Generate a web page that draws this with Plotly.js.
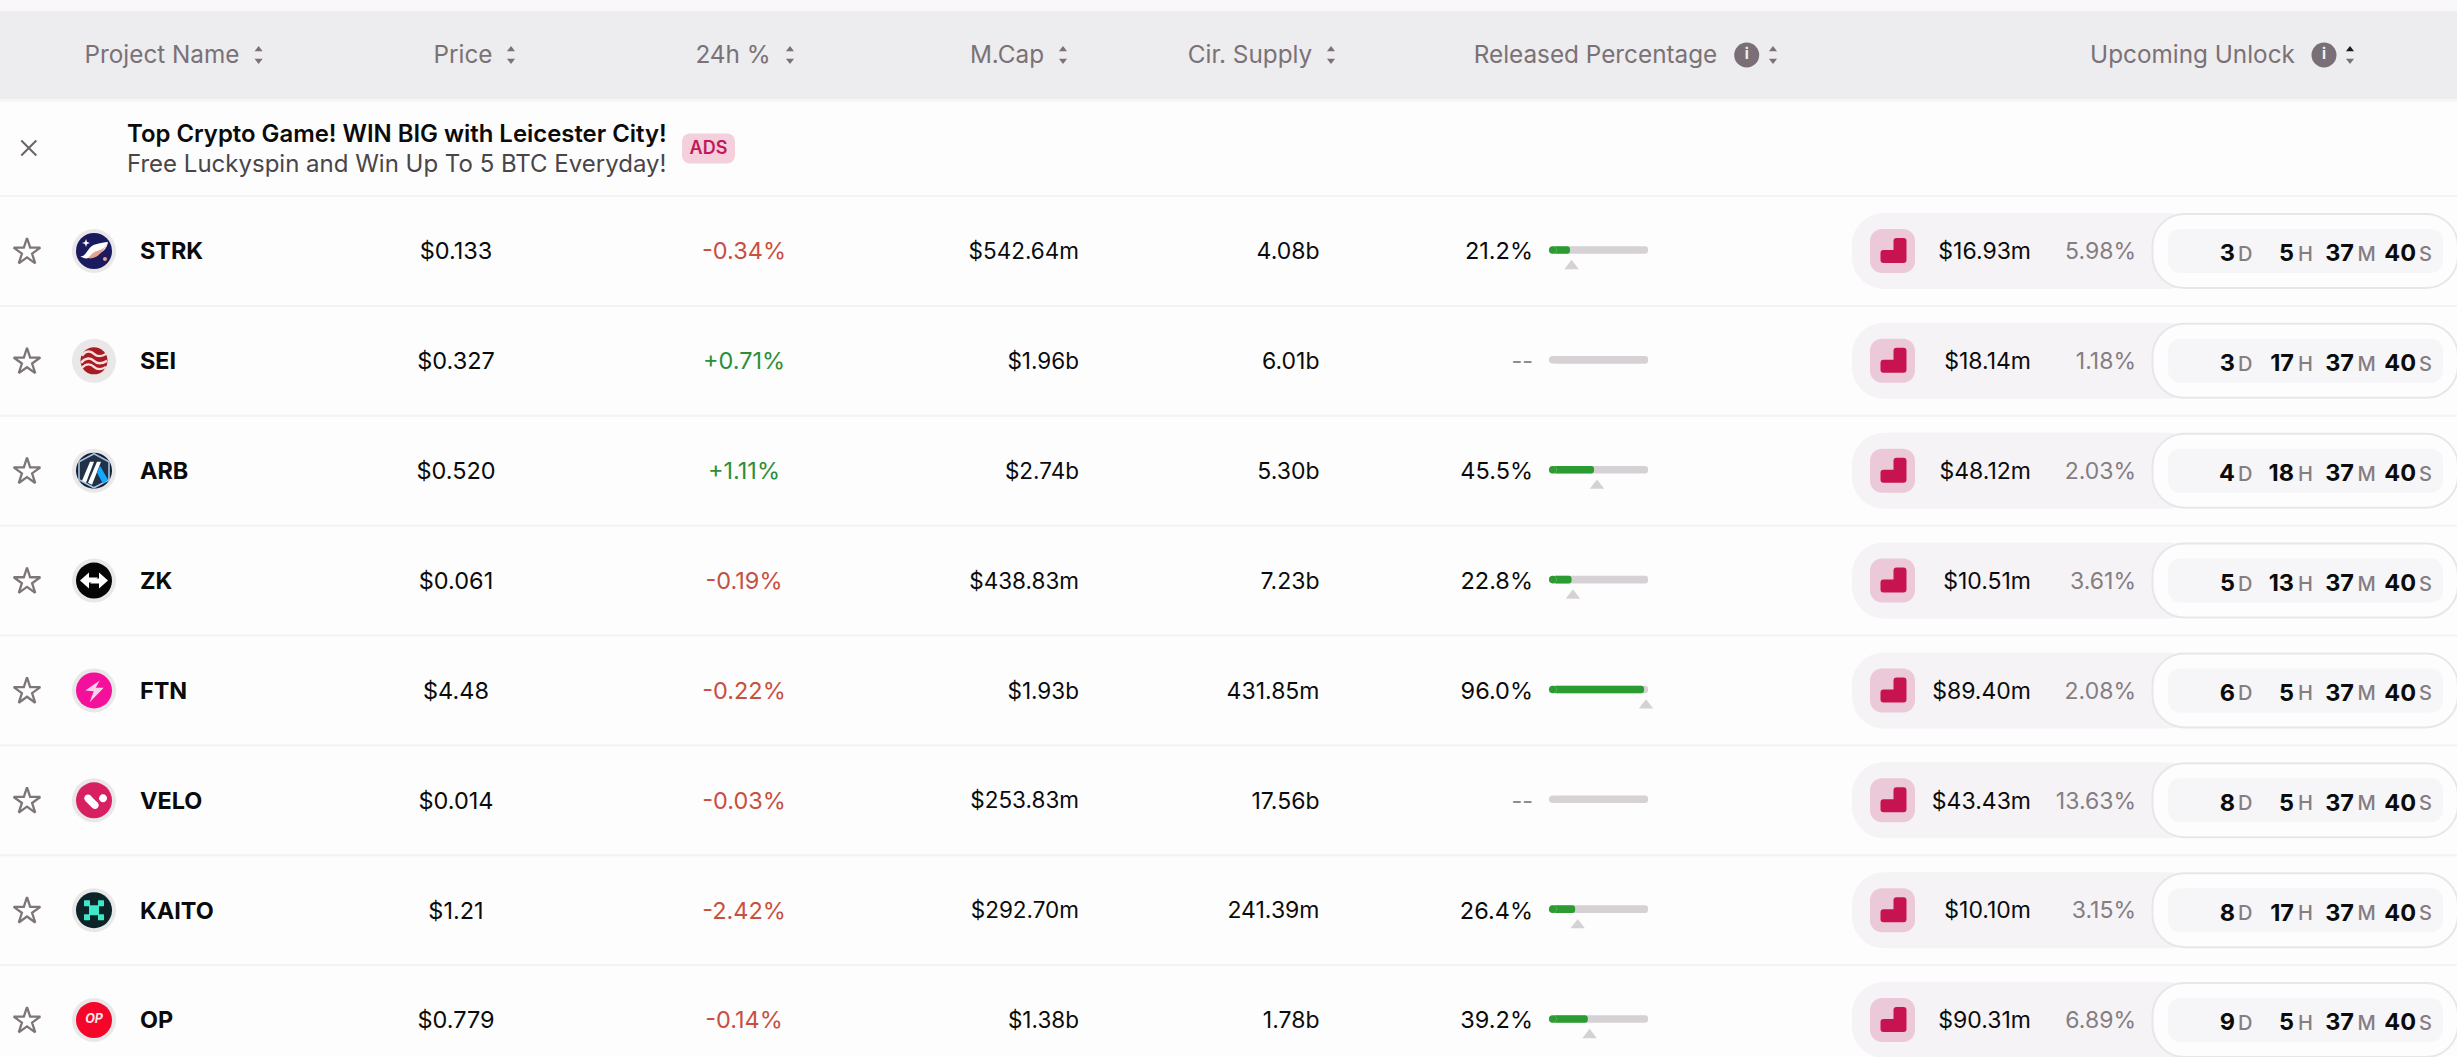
<!DOCTYPE html>
<html><head><meta charset="utf-8">
<script src="https://cdn.plot.ly/plotly-3.0.1.min.js"></script>
<style>html,body{margin:0;padding:0;background:#fdfdfd}#chart{width:2457px;height:1057px}</style>
</head><body><div id="chart"></div>
<script>
// ---------- data ----------
const projectNames = ['STRK','SEI','ARB','ZK','FTN','VELO','KAITO','OP'];
const prices = ['$0.133','$0.327','$0.520','$0.061','$4.48','$0.014','$1.21','$0.779'];
const dayChanges = [-0.34,0.71,1.11,-0.19,-0.22,-0.03,-2.42,-0.14];
const marketCaps = ['$542.64m','$1.96b','$2.74b','$438.83m','$1.93b','$253.83m','$292.70m','$1.38b'];
const circSupply = ['4.08b','6.01b','5.30b','7.23b','431.85m','17.56b','241.39m','1.78b'];
const releasedPct = [21.2,null,45.5,22.8,96.0,null,26.4,39.2];
const nextReleasePct = [22.8,null,48.5,24.2,98,null,29,41];
const unlockValues = ['$16.93m','$18.14m','$48.12m','$10.51m','$89.40m','$43.43m','$10.10m','$90.31m'];
const unlockShares = ['5.98%','1.18%','2.03%','3.61%','2.08%','13.63%','3.15%','6.89%'];
const days = [3,3,4,5,6,8,8,9];
const hours = [5,17,18,13,5,5,17,5];
const minutes = [37,37,37,37,37,37,37,37];
const seconds = [40,40,40,40,40,40,40,40];
const headerLabels = ['Project Name','Price','24h %','M.Cap','Cir. Supply','Released Percentage','Upcoming Unlock'];
const adTitle = 'Top Crypto Game! WIN BIG with Leicester City!';
const adSubtitle = 'Free Luckyspin and Win Up To 5 BTC Everyday!';

// ---------- layout geometry ----------
const W = 2457, H = 1057, ROW0 = 251, ROWH = 109.86;
const rows = projectNames.map((_, i) => i);
const rowAt = px => (px - ROW0) / ROWH;
const off = (i, px) => i + px / ROWH;
const FONT = 'Inter, "Noto Sans", sans-serif';
const INK = '#0b0b0c', MUTED = '#857d82', HEAD = '#7a7276', RED = '#c8503f', GREEN = '#2c8f36', BARGREEN = '#2b9c31';

const traces = [];
function text(x, y, t, pos, size, color, weight, extra) {
  traces.push(Object.assign({type:'scatter', mode:'text', x, y, text:t, textposition:pos,
    textfont:{family:FONT, size, color, weight:weight||400}, cliponaxis:false, hoverinfo:'skip', showlegend:false}, extra||{}));
}
function mark(x, y, symbol, size, color, line, axis) {
  traces.push({type:'scatter', mode:'markers', x, y, xaxis:axis||'x', yaxis:'y', cliponaxis:false,
    marker:{symbol, size, color, opacity:1, line:line||{width:0}}, hoverinfo:'skip', showlegend:false});
}

// ---------- shapes ----------
const shapes = [];
const n = v => +v.toFixed(2);
function P(cmds){ // [['M',x,y],['L',x,y],['C',x1,y1,x2,y2,x,y],['Z']] with y pointing down
  return cmds.map(c => c[0] + (c.length>1 ? ' ' + c.slice(1).map((v,k)=> n(k%2? -v : v)).join(' ') : '')).join(' ');
}
function rr(x0,y0,x1,y1,r){
  const k=r*0.45;
  return P([['M',x0+r,y0],['L',x1-r,y0],['C',x1-k,y0,x1,y0+k,x1,y0+r],['L',x1,y1-r],['C',x1,y1-k,x1-k,y1,x1-r,y1],
    ['L',x0+r,y1],['C',x0+k,y1,x0,y1-k,x0,y1-r],['L',x0,y0+r],['C',x0,y0+k,x0+k,y0,x0+r,y0],['Z']]);
}
function disc(cx,cy,r){ return rr(cx-r,cy-r,cx+r,cy+r,r); }
function poly(pts){ return P(pts.map((p,i)=>[i?'L':'M',p[0],p[1]]).concat([['Z']])); }
function glyph(ax, row, path, fill, lineColor, lineWidth, layer){
  shapes.push({type:'path', xref:'x', yref:'y', xsizemode:'pixel', ysizemode:'pixel', xanchor:ax, yanchor:row, path,
    fillcolor:fill||'rgba(0,0,0,0)', line:{color:lineColor||'rgba(0,0,0,0)', width:lineWidth||0}, layer:layer||'above'});
}
function band(y0,y1,color){
  shapes.push({type:'rect', xref:'x', yref:'y', x0:0, x1:W, y0:rowAt(y0), y1:rowAt(y1), fillcolor:color, line:{width:0}, layer:'below'});
}
band(0,11,'#f9f7f9');
band(11,99,'#edecef');
band(99,102,'#f6f5f7');
for (let i=0;i<8;i++){
  shapes.push({type:'line', xref:'x', yref:'y', x0:0, x1:W, y0:i-0.5, y1:i-0.5, line:{color:'#f3f2f4', width:2}, layer:'below'});
}
// ad badge
glyph(708.5, rowAt(148.5), rr(-26.5,-15,26.5,15,8), '#f4cfdc', null, 0, 'below');

// unlock pills
rows.forEach(i=>{
  glyph(2000, i, rr(-148,-38,200,38,32), '#f5f3f5', null, 0, 'below');
  glyph(2305, i, rr(-152.5,-37,153,37,32), '#fdfdfd', '#e8e6ea', 2, 'below');
  glyph(2305, i, rr(-137,-22,138,22,12), '#f6f5f7', null, 0, 'below');
  glyph(1892.5, i, rr(-22.5,-22,22.5,22,12), '#ecc9d8', null, 0, 'below');
  glyph(1892.5, i, P([['M',1,-10],['C',1,-12,2,-13,4,-13],['L',11,-13],['C',13,-13,14,-12,14,-10],['L',14,9],['C',14,11,13,12,11,12],
     ['L',-9,12],['C',-11,12,-12,11,-12,9],['L',-12,2],['C',-12,0,-11,-1,-9,-1],['L',1,-1],['Z']]), '#c7134f', null, 0, 'below');
});

// ---------- table header ----------
const headerCenters = [162,463,733,1007,1250,1595.5,2192.5];
const sortX = [258.6,511,790,1063,1331,1773,2350];
const HY = rowAt(55);
text(headerCenters, headerCenters.map(()=>rowAt(56.5)), headerLabels, 'middle center', 24.3, HEAD);
mark(sortX, sortX.map(()=>rowAt(49.5)), 'triangle-up', 7, sortX.map((_,k)=>k===6?'#1c1a1c':HEAD));
mark(sortX, sortX.map(()=>rowAt(60.5)), 'triangle-down', 7, HEAD);
const infoX = [1746.7,2324];
mark(infoX, infoX.map(()=>HY), 'circle', 25, '#7a6f76');
text(infoX, infoX.map(()=>HY), ['i','i'], 'middle center', 15, '#f4f2f4', 700);

// ---------- ad row ----------
mark([28.8],[rowAt(148)],'x-thin-open',15,'#6b6468',{color:'#6b6468',width:2});
text([127],[rowAt(136.5)],[adTitle],'middle right',23.9,INK,600);
text([127],[rowAt(165.5)],[adSubtitle],'middle right',24,'#4a4548',400);
text([708.5],[rowAt(149.5)],['ADS'],'middle center',18,'#c2185b',600);

// ---------- rows ----------
mark(rows.map(()=>27), rows.map(i=>off(i,1)), 'star-open', 20, '#7d757a', {color:'#7d757a', width:2.3});

// logos
const logoColor = ['#1b1a5e','#a61c22','#12203a','#050505','#f5109c','#d81f62','#0c2328','#f5052a'];
const logoSize = [36,27,36,36,36,36,36,36];
mark(rows.map(()=>94), rows, 'circle', 44, '#e9e7e8');
mark(rows.map(()=>94), rows, 'circle', logoSize, logoColor);
// STRK
glyph(94,0,P([['M',-14,5],['C',-7,7,-7,-6,3,-7],['C',7,-8,10,-9,14,-9],['C',13,-2,8,2,2,4],['C',-3,6,-8,10,-14,5],['Z']]),'#ffffff');
glyph(94,0,P([['M',14,-9],['C',11,-3,8,-1,3,0],['C',-1,1,-3,4,-6,7],['C',0,9,9,3,14,-9],['Z']]),'#e8a08f');
glyph(94,0,poly([[-8,-12],[-7,-9],[-4,-8],[-7,-7],[-8,-4],[-9,-7],[-12,-8],[-9,-9]]),'#ffffff');
glyph(94,0,disc(11,8,2),'#e8a08f');
// SEI
glyph(94,1,P([['M',-12,-5],['C',-8,-11,-3,-10,0,-7],['C',3,-4,8,-4,12,-7]]),null,'#f6dede',2.4);
glyph(94,1,P([['M',-13,2],['C',-8,-4,-3,-3,0,0],['C',3,3,8,3,13,0]]),null,'#f6dede',2.4);
glyph(94,1,P([['M',-12,7],['C',-8,2,-3,3,0,6],['C',3,9,8,9,12,6]]),null,'#f6dede',2.4);
// ARB
glyph(94,2,poly([[0,-17],[15,-9],[15,9],[0,17],[-15,9],[-15,-9]]),'#213147','#a8c4dc',1.6);
glyph(94,2,poly([[-4,-9],[0,-9],[-8,12],[-12,10]]),'#ffffff');
glyph(94,2,poly([[3,-9],[7,-9],[-2,14],[-6,12]]),'#ffffff');
glyph(94,2,poly([[6,-5],[14,9],[9,13],[3,2]]),'#12aaff');
// ZK
glyph(94,3,poly([[-14,0],[-5,-8],[-5,-3],[4,-3],[-2,2],[-5,2],[-5,8]]),'#ffffff');
glyph(94,3,poly([[14,0],[5,8],[5,3],[-4,3],[2,-2],[5,-2],[5,-8]]),'#ffffff');
// FTN
glyph(94,4,poly([[5.7,-10],[-8.7,0],[-0.3,0.7],[-4.3,11.7],[9.7,-2.7],[1.7,-2.7]]),'#fbd0ea');
// VELO
glyph(94,5,P([['M',-6,-2],['L',1,5]]),null,'#ffffff',7.5);
glyph(94,5,disc(-6,-2,3.7),'#ffffff');
glyph(94,5,disc(1,5,3.7),'#ffffff');
glyph(94,5,disc(9,-2,4),'#ffffff');
// KAITO
[[-10,-10],[4,-10],[-10,4],[4,4]].forEach(p=>glyph(94,6,rr(p[0],p[1],p[0]+6,p[1]+6,0.5),'#3fe8c8'));
glyph(94,6,rr(-5,-5,5,5,0.5),'#3fe8c8');
// OP
text([94],[7],['OP'],'middle center',12.5,'#ffffff',700,{textfont:{family:FONT,size:12.5,color:'#f8e8ea',weight:700,style:'italic'}});

// text columns
const TY = rows.map(i=>off(i,2.5));
text(rows.map(()=>140), TY, projectNames, 'middle right', 23.4, INK, 700);
text(rows.map(()=>456), TY, prices, 'middle center', 23.5, INK);
text(rows.map(()=>744), TY, dayChanges.map(v=>(v>0?'+':'')+v.toFixed(2)+'%'), 'middle center', 23.5, dayChanges.map(v=>v<0?RED:GREEN));
text(rows.map(()=>1079), TY, marketCaps, 'middle left', 22.5, INK);
text(rows.map(()=>1319.5), TY, circSupply, 'middle left', 23, INK);
text(rows.map(()=>1533), TY, releasedPct.map(v=>v==null?'--':v.toFixed(1)+'%'), 'middle left', 23.5, releasedPct.map(v=>v==null?'#8f888d':INK));
text(rows.map(()=>2031), TY, unlockValues, 'middle left', 23, INK);
text(rows.map(()=>2136), TY, unlockShares, 'middle left', 23, MUTED);

// countdown
const CY = rows.map(i=>off(i,4.5));
const numRight = [2235,2294,2354,2416], unitLeft = [2238,2298,2357.5,2419], unitText = ['D','H','M','S'];
[days,hours,minutes,seconds].forEach((arr,k)=>{
  text(rows.map(()=>numRight[k]), CY, arr.map(String), 'middle left', 23.5, INK, 700);
  text(rows.map(()=>unitLeft[k]), rows.map(i=>off(i,5)), rows.map(()=>unitText[k]), 'middle right', 20, MUTED, 500);
});

// ---------- progress bars ----------
const BAR = 7.6/ROWH, CAP = 3.8;
const barY = rows.map(i=>off(i,-1));
traces.push({type:'bar', orientation:'h', xaxis:'x2', yaxis:'y', x:rows.map(()=>100-CAP), base:CAP, y:barY, width:BAR,
  marker:{color:'#d6d1d4', line:{width:0}}, hoverinfo:'skip', showlegend:false});
traces.push({type:'bar', orientation:'h', xaxis:'x2', yaxis:'y', x:releasedPct.map(v=>v==null?null:v-CAP), base:CAP, y:barY, width:BAR,
  marker:{color:BARGREEN, line:{width:0}}, hoverinfo:'skip', showlegend:false});
mark(rows.map(()=>CAP), barY, 'circle', 7.6, '#d6d1d4', null, 'x2');
mark(releasedPct.map(v=>v==null?null:CAP), barY, 'circle', 7.6, BARGREEN, null, 'x2');
mark(nextReleasePct, rows.map(i=>off(i,15)), 'triangle-up', 12.5, '#d6d1d4', null, 'x2');

Plotly.newPlot('chart', traces, {
  width:W, height:H, margin:{l:0,r:0,t:0,b:0,pad:0},
  paper_bgcolor:'#fdfdfd', plot_bgcolor:'rgba(0,0,0,0)',
  showlegend:false, hovermode:false, barmode:'overlay', barcornerradius:4,
  xaxis:{range:[0,W], domain:[0,1], visible:false, fixedrange:true},
  xaxis2:{range:[0,100], domain:[1549/W,1648/W], anchor:'y', visible:false, fixedrange:true},
  yaxis:{range:[rowAt(H),rowAt(0)], domain:[0,1], visible:false, fixedrange:true},
  shapes
}, {displayModeBar:false, staticPlot:true});
</script></body></html>
